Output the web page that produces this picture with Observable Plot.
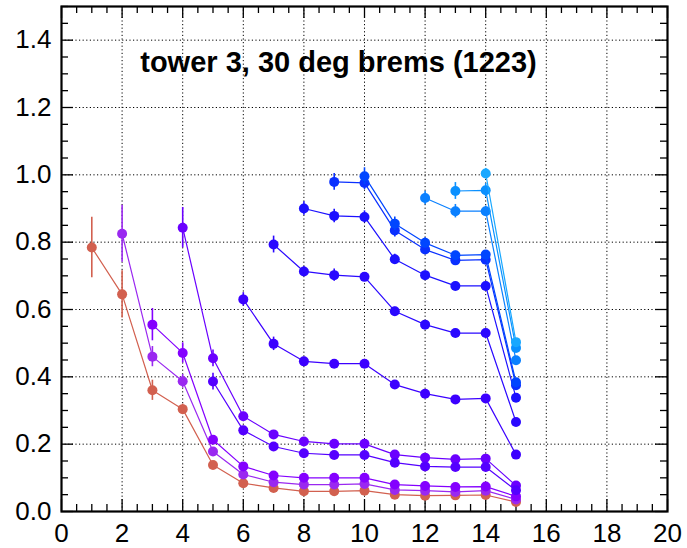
<!DOCTYPE html>
<html>
<head>
<meta charset="utf-8">
<script src="https://cdn.jsdelivr.net/npm/d3@7"></script>
<script src="https://cdn.jsdelivr.net/npm/@observablehq/plot@0.6"></script>
<style>
  html, body { margin: 0; padding: 0; background: #fff; }
  #chart svg { display: block; }
</style>
</head>
<body>
<div id="chart"></div>
<script>
const titleText = "tower 3, 30 deg brems (1223)";

// starting x of each series (all series end at x = 15)
const seriesStarts = [1, 2, 3, 4, 5, 6, 7, 8, 9, 10, 12, 13, 14];

const seriesColors = [
  "#d2604f", "#9a28f0", "#8400ff", "#6a00ff", "#5400ff", "#3c00ff", "#2a08ff",
  "#1c10ff", "#0a30ff", "#0046ff", "#0a80ff", "#0a90ff", "#18a8ff"
];

const valsA = [0.784, 0.645, 0.360, 0.304, 0.138, 0.084, 0.070, 0.060, 0.060, 0.062, 0.050, 0.047, 0.048, 0.049, 0.028];
const valsB = [0.825, 0.460, 0.387, 0.178, 0.110, 0.087, 0.080, 0.080, 0.082, 0.064, 0.062, 0.058, 0.062, 0.036];
const valsC = [0.555, 0.471, 0.213, 0.134, 0.107, 0.100, 0.100, 0.100, 0.080, 0.076, 0.073, 0.074, 0.045];
const valsD = [0.843, 0.455, 0.283, 0.229, 0.208, 0.201, 0.201, 0.169, 0.160, 0.155, 0.157, 0.077];
const valsE = [0.386, 0.241, 0.193, 0.173, 0.168, 0.168, 0.145, 0.134, 0.132, 0.132, 0.063];
const valsF = [0.630, 0.498, 0.446, 0.439, 0.439, 0.377, 0.350, 0.333, 0.336, 0.169];
const valsG = [0.793, 0.713, 0.702, 0.697, 0.595, 0.555, 0.530, 0.530, 0.266];
const valsH = [0.900, 0.878, 0.875, 0.749, 0.702, 0.670, 0.670, 0.338];
const valsI = [0.979, 0.976, 0.835, 0.778, 0.746, 0.748, 0.375];
const valsJ = [0.996, 0.855, 0.798, 0.761, 0.763, 0.384];
const valsK = [0.931, 0.892, 0.892, 0.449];
const valsL = [0.952, 0.954, 0.486];
const valsM = [1.004, 0.503];

const errsA = [0.090, 0.070, 0.030, 0.015, 0.010, 0.006, 0.005, 0.005, 0.005, 0.005, 0.005, 0.005, 0.005, 0.005, 0.004];
const errsB = [0.085, 0.030, 0.020, 0.010, 0.006, 0.005, 0.005, 0.005, 0.005, 0.005, 0.005, 0.005, 0.005, 0.004];
const errsC = [0.048, 0.030, 0.012, 0.008, 0.006, 0.005, 0.005, 0.005, 0.005, 0.005, 0.005, 0.005, 0.004];
const errsD = [0.060, 0.025, 0.012, 0.010, 0.008, 0.008, 0.008, 0.007, 0.007, 0.007, 0.007, 0.005];
const errsE = [0.025, 0.012, 0.010, 0.008, 0.008, 0.008, 0.007, 0.007, 0.007, 0.007, 0.005];
const errsF = [0.020, 0.020, 0.012, 0.012, 0.012, 0.010, 0.010, 0.010, 0.010, 0.008];
const errsG = [0.025, 0.015, 0.018, 0.012, 0.012, 0.012, 0.012, 0.012, 0.010];
const errsH = [0.020, 0.020, 0.018, 0.015, 0.012, 0.012, 0.012, 0.010];
const errsI = [0.025, 0.020, 0.020, 0.015, 0.012, 0.012, 0.010];
const errsJ = [0.025, 0.020, 0.015, 0.012, 0.012, 0.010];
const errsK = [0.020, 0.020, 0.015, 0.010];
const errsL = [0.025, 0.020, 0.010];
const errsM = [0.015, 0.010];

const xMajorTicks = [0, 2, 4, 6, 8, 10, 12, 14, 16, 18, 20];
const xMinorTicks = d3.range(0, 20.01, 0.5).filter(v => v % 2 !== 0);
const yMajorTicks = [0, 0.2, 0.4, 0.6, 0.8, 1.0, 1.2, 1.4];
const yMinorTicks = d3.range(0, 1.501, 0.05).map(v => +v.toFixed(2)).filter(v => Math.round(v * 100) % 20 !== 0);
const xGrid = [2, 4, 6, 8, 10, 12, 14, 16, 18];
const yGrid = [0.2, 0.4, 0.6, 0.8, 1.0, 1.2, 1.4];

const allVals = [valsA, valsB, valsC, valsD, valsE, valsF, valsG, valsH, valsI, valsJ, valsK, valsL, valsM];
const allErrs = [errsA, errsB, errsC, errsD, errsE, errsF, errsG, errsH, errsI, errsJ, errsK, errsL, errsM];

const W = 687, H = 548;
const mL = 61, mR = 20, mT = 6, mB = 37;
const innerW = W - mL - mR, innerH = H - mT - mB;
const majorLen = 12, minorLen = 7;

const seriesRows = allVals.map((vals, i) => vals.map((v, j) => ({
  series: i, x: seriesStarts[i] + j, y: v, e: allErrs[i][j], color: seriesColors[i]
})));

const seriesMarks = seriesRows.flatMap(rows => [
  Plot.ruleX(rows, {x: "x", y1: d => d.y - d.e, y2: d => d.y + d.e, stroke: "color", strokeWidth: 1.6}),
  Plot.line(rows, {x: "x", y: "y", stroke: "color", strokeWidth: 1.2}),
  Plot.dot(rows, {x: "x", y: "y", fill: "color", r: 5, stroke: "none"})
]);

const tickStyle = {stroke: "black", strokeWidth: 1.3};

const chart = Plot.plot({
  width: W, height: H,
  marginLeft: mL, marginRight: mR, marginTop: mT, marginBottom: mB,
  style: {fontFamily: "'Liberation Sans', Arial, Helvetica, sans-serif", fontSize: "26px", background: "white", color: "black"},
  x: {domain: [0, 20], axis: null},
  y: {domain: [0, 1.5], axis: null},
  marks: [
    Plot.ruleX(xGrid, {x: d => d, stroke: "black", strokeWidth: 1, strokeDasharray: "1.2,2.4"}),
    Plot.ruleY(yGrid, {y: d => d, stroke: "black", strokeWidth: 1, strokeDasharray: "1.2,2.4"}),
    // ticks bottom & top
    Plot.tickX(xMajorTicks, {x: d => d, insetTop: innerH - majorLen, ...tickStyle}),
    Plot.tickX(xMinorTicks, {x: d => d, insetTop: innerH - minorLen, ...tickStyle}),
    Plot.tickX(xMajorTicks, {x: d => d, insetBottom: innerH - majorLen, ...tickStyle}),
    Plot.tickX(xMinorTicks, {x: d => d, insetBottom: innerH - minorLen, ...tickStyle}),
    // ticks left & right
    Plot.tickY(yMajorTicks, {y: d => d, insetRight: innerW - majorLen, ...tickStyle}),
    Plot.tickY(yMinorTicks, {y: d => d, insetRight: innerW - minorLen, ...tickStyle}),
    Plot.tickY(yMajorTicks, {y: d => d, insetLeft: innerW - majorLen, ...tickStyle}),
    Plot.tickY(yMinorTicks, {y: d => d, insetLeft: innerW - minorLen, ...tickStyle}),
    Plot.axisX({ticks: xMajorTicks, tickSize: 0, tickPadding: 12, tickFormat: d3.format("d"), fontSize: 26, label: null}),
    Plot.axisY({ticks: yMajorTicks, tickSize: 0, tickPadding: 10, tickFormat: d3.format(".1f"), fontSize: 26, label: null}),
    ...seriesMarks,
    Plot.text([titleText], {text: d => d, frameAnchor: "top", dx: -26, dy: 56, lineAnchor: "middle",
      fontSize: 29, fontWeight: "bold", fill: "black"}),
    Plot.frame({stroke: "black", strokeWidth: 2.2})
  ]
});

document.getElementById("chart").appendChild(chart);
</script>
</body>
</html>
